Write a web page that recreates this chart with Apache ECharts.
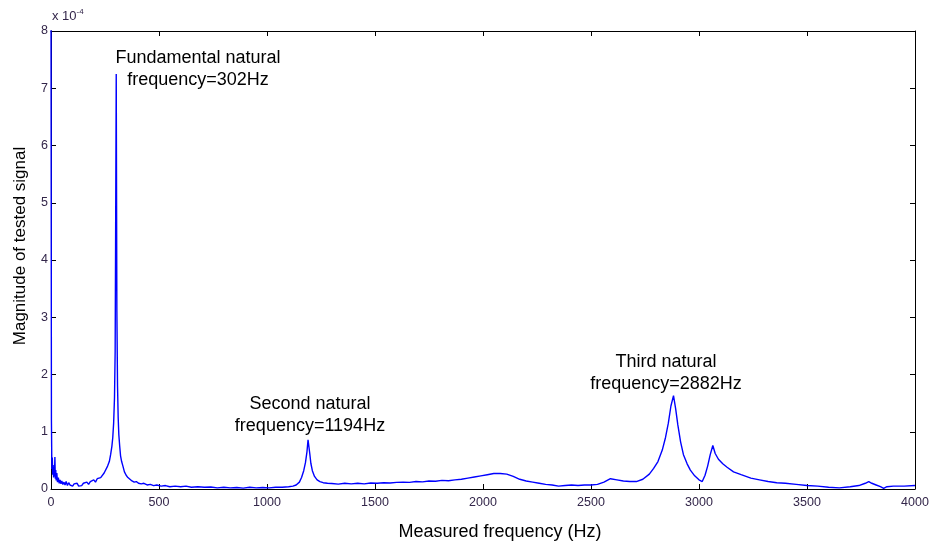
<!DOCTYPE html>
<html>
<head>
<meta charset="utf-8">
<script src="https://cdn.jsdelivr.net/npm/echarts@6/dist/echarts.min.js"></script>
<style>
  html, body { margin: 0; padding: 0; background: #fff; }
  #chart { width: 933px; height: 542px; }
</style>
</head>
<body>
<div id="chart"></div>
<script>
// Spectrum of the tested signal: frequency (Hz) and magnitude (x 10^-4)
const freqHz = [
  0, 2, 4, 6, 8, 10, 12, 14, 16, 18, 20, 22, 24, 27, 30, 34, 38, 42, 46, 50,
  55, 60, 65, 70, 76, 82, 88, 94, 100, 107, 114, 121, 128, 135, 142, 150, 158, 166, 174, 182,
  190, 198, 206, 214, 222, 230, 238, 246, 254, 262, 270, 276, 282, 286, 290, 294, 297, 299, 302, 305,
  308, 311, 314, 318, 322, 327, 333, 340, 348, 356, 365, 375, 385, 395, 405, 418, 430, 445, 460, 475,
  490, 510, 530, 550, 575, 600, 625, 650, 680, 710, 740, 770, 800, 830, 860, 890, 920, 950, 980, 1010,
  1040, 1070, 1100, 1120, 1135, 1150, 1160, 1170, 1178, 1185, 1190, 1194, 1198, 1203, 1210, 1220, 1232, 1245, 1260, 1280,
  1300, 1330, 1360, 1390, 1420, 1450, 1480, 1510, 1540, 1570, 1600, 1630, 1660, 1690, 1720, 1750, 1780, 1810, 1840, 1870,
  1900, 1930, 1960, 1990, 2020, 2050, 2080, 2110, 2140, 2170, 2200, 2230, 2260, 2290, 2320, 2350, 2380, 2410, 2440, 2470,
  2500, 2530, 2560, 2590, 2620, 2650, 2680, 2710, 2740, 2770, 2790, 2810, 2830, 2845, 2858, 2870, 2882, 2892, 2902, 2915,
  2928, 2945, 2960, 2980, 3000, 3015, 3028, 3040, 3052, 3064, 3075, 3090, 3110, 3130, 3160, 3195, 3240, 3280, 3320, 3360,
  3400, 3450, 3500, 3550, 3600, 3650, 3700, 3740, 3770, 3786, 3800, 3820, 3840, 3855, 3870, 3900, 3950, 4000
];
const magnitude = [
  8.6, 1.2, 0.35, 0.55, 0.25, 0.42, 0.2, 0.38, 0.22, 0.56, 0.18, 0.33, 0.15, 0.28, 0.12, 0.2, 0.1, 0.16, 0.09, 0.14,
  0.08, 0.12, 0.07, 0.13, 0.06, 0.11, 0.07, 0.1, 0.05, 0.09, 0.06, 0.1, 0.05, 0.08, 0.06, 0.1, 0.07, 0.12, 0.08, 0.13,
  0.1, 0.16, 0.12, 0.18, 0.15, 0.2, 0.22, 0.28, 0.3, 0.4, 0.48, 0.6, 0.75, 0.9, 1.15, 1.6, 2.4, 4.25, 7.25, 3.1,
  1.8, 1.25, 0.95, 0.75, 0.58, 0.48, 0.4, 0.3, 0.24, 0.2, 0.17, 0.14, 0.12, 0.13, 0.1, 0.09, 0.1, 0.07, 0.08, 0.06,
  0.07, 0.05, 0.06, 0.04, 0.05, 0.04, 0.05, 0.03, 0.04, 0.03, 0.035, 0.02, 0.03, 0.02, 0.025, 0.015, 0.03, 0.02, 0.025, 0.02,
  0.03, 0.03, 0.04, 0.05, 0.07, 0.12, 0.2, 0.32, 0.46, 0.65, 0.86, 0.87, 0.62, 0.45, 0.32, 0.22, 0.16, 0.13, 0.11, 0.1,
  0.095, 0.085, 0.1, 0.09, 0.1, 0.09, 0.105, 0.1, 0.11, 0.105, 0.115, 0.12, 0.115, 0.13, 0.125, 0.14, 0.135, 0.15, 0.145, 0.16,
  0.17, 0.19, 0.21, 0.23, 0.25, 0.27, 0.27, 0.26, 0.22, 0.17, 0.14, 0.12, 0.1, 0.08, 0.07, 0.05, 0.06, 0.07, 0.06, 0.07,
  0.07, 0.08, 0.12, 0.18, 0.16, 0.14, 0.13, 0.13, 0.17, 0.26, 0.36, 0.48, 0.68, 0.9, 1.15, 1.45, 1.63, 1.4, 1.12, 0.82,
  0.6, 0.44, 0.33, 0.23, 0.16, 0.13, 0.24, 0.4, 0.6, 0.76, 0.62, 0.52, 0.44, 0.38, 0.3, 0.25, 0.19, 0.16, 0.13, 0.11,
  0.1, 0.08, 0.06, 0.05, 0.03, 0.02, 0.04, 0.06, 0.1, 0.13, 0.1, 0.07, 0.04, 0.01, 0.04, 0.05, 0.05, 0.06
];

const xTicks = { min: 0, max: 4000, interval: 500 };
const yTicks = { min: 0, max: 8, interval: 1 };

const peakNotes = [
  { lines: ['Fundamental natural', 'frequency=302Hz'], x: 198, y: 47 },
  { lines: ['Second natural', 'frequency=1194Hz'], x: 310, y: 393 },
  { lines: ['Third natural', 'frequency=2882Hz'], x: 666, y: 351 }
];

const FONT = 'Liberation Sans, Arial, sans-serif';
const TICK_COLOR = '#33264a';
const chart = echarts.init(document.getElementById('chart'), null, { renderer: 'canvas' });

const tickLabel = { color: TICK_COLOR, fontSize: 12.5, fontFamily: FONT, formatter: v => String(v) };
const frameAxis = {
  axisLine: { show: true, onZero: false, lineStyle: { color: '#000', width: 1 } },
  axisTick: { show: true, inside: true, length: 5, lineStyle: { color: '#000' } },
  axisLabel: { show: false },
  splitLine: { show: false }
};

chart.setOption({
  animation: false,
  backgroundColor: '#fff',
  grid: { left: 51, right: 18, top: 31, bottom: 53, containLabel: false, outerBoundsMode: 'none' },
  xAxis: [
    {
      type: 'value', min: xTicks.min, max: xTicks.max, interval: xTicks.interval,
      position: 'bottom',
      name: 'Measured frequency (Hz)', nameLocation: 'middle', nameGap: 34,
      nameTextStyle: { color: '#000', fontSize: 18, fontFamily: FONT, padding: [0, 0, 0, 34] },
      axisLine: { show: true, onZero: false, lineStyle: { color: '#000', width: 1 } },
      axisTick: { show: true, inside: true, length: 5, lineStyle: { color: '#000' } },
      axisLabel: Object.assign({ margin: 7 }, tickLabel),
      splitLine: { show: false }
    },
    Object.assign({ type: 'value', min: xTicks.min, max: xTicks.max, interval: xTicks.interval, position: 'top' }, frameAxis)
  ],
  yAxis: [
    {
      type: 'value', min: yTicks.min, max: yTicks.max, interval: yTicks.interval,
      position: 'left',
      name: 'Magnitude of tested signal', nameLocation: 'middle', nameGap: 22, nameRotate: 90,
      nameTextStyle: { color: '#000', fontSize: 17, fontFamily: FONT, padding: [0, 0, 0, 28] },
      axisLine: { show: true, onZero: false, lineStyle: { color: '#000', width: 1 } },
      axisTick: { show: true, inside: true, length: 5, lineStyle: { color: '#000' } },
      axisLabel: Object.assign({ margin: 3 }, tickLabel),
      splitLine: { show: false }
    },
    Object.assign({ type: 'value', min: yTicks.min, max: yTicks.max, interval: yTicks.interval, position: 'right' }, frameAxis)
  ],
  series: [{
    type: 'line',
    xAxisIndex: 0,
    yAxisIndex: 0,
    data: freqHz.map((f, i) => [f, magnitude[i]]),
    showSymbol: false,
    clip: true,
    lineStyle: { color: '#0000ff', width: 1.4 },
    itemStyle: { color: '#0000ff' }
  }],
  graphic: [
    {
      type: 'text', left: 52, top: 8,
      style: {
        text: '{b|x 10}{s|-4}',
        rich: {
          b: { fontSize: 13, fontFamily: FONT, fill: TICK_COLOR },
          s: { fontSize: 8, fontFamily: FONT, fill: TICK_COLOR, verticalAlign: 'top', padding: [0, 0, 9, 0] }
        }
      }
    }
  ].concat(peakNotes.map(n => ({
    type: 'text', x: n.x, y: n.y,
    style: {
      text: n.lines.join('\n'), fill: '#000', fontSize: 18, fontFamily: FONT,
      align: 'center', verticalAlign: 'top', lineHeight: 22
    }
  })))
});
</script>
</body>
</html>
